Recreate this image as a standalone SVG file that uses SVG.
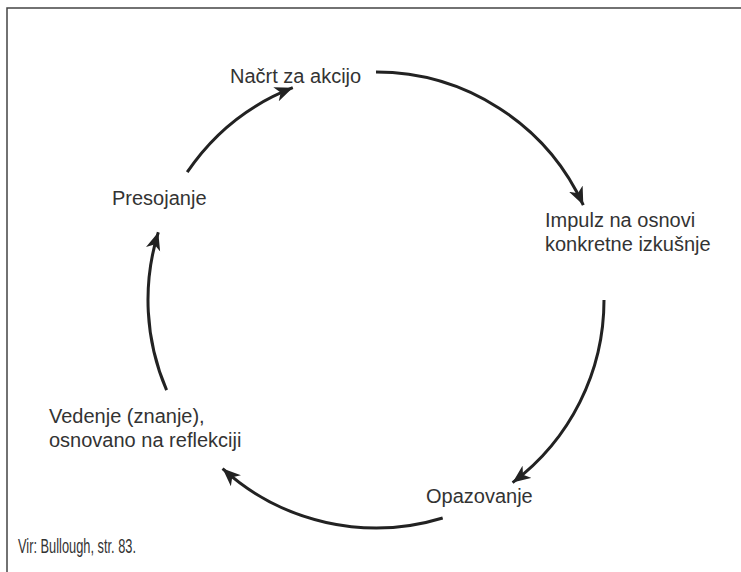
<svg xmlns="http://www.w3.org/2000/svg" width="741" height="572" viewBox="0 0 741 572">
  <style>
    .lbl { font-family: "Liberation Sans", Arial, sans-serif; font-size: 20px; fill: #333; }
    .src { font-family: "Liberation Sans Narrow", "Liberation Sans", Arial, sans-serif; font-size: 20px; fill: #333; }
    .arc { fill: none; stroke: #222; stroke-width: 3; }
    .frame { fill: none; stroke: #444; stroke-width: 1.5; }
  </style>
  <defs>
    <marker id="ah" markerUnits="userSpaceOnUse" markerWidth="20" markerHeight="16" refX="18" refY="7.5" orient="auto">
      <path d="M0,0 L18,7.5 L0,15 L5,7.5 z" fill="#222"/>
    </marker>
  </defs>
  <rect width="741" height="572" fill="#fff"/>
  <g id="frame">
    <path class="frame" d="M7,572 L7,8 L741,8"/>
  </g>
  <g id="connectors">
    <path class="arc" marker-end="url(#ah)" d="M376,72 A228,228 0 0 1 583.3,205.1"/>
    <path class="arc" marker-end="url(#ah)" d="M604,300 A228,228 0 0 1 512.6,482.6"/>
    <path class="arc" marker-end="url(#ah)" d="M442.7,518 A228,228 0 0 1 222.6,468.6"/>
    <path class="arc" marker-end="url(#ah)" d="M166.6,390.2 A228,228 0 0 1 158.3,232.2"/>
    <path class="arc" marker-end="url(#ah)" d="M187.2,172.2 A228,228 0 0 1 292.8,87.7"/>
  </g>
  <g id="nacrt">
    <text class="lbl" x="230" y="83">Načrt za akcijo</text>
  </g>
  <g id="impulz">
    <text class="lbl" x="545" y="227">Impulz na osnovi</text>
    <text class="lbl" x="545" y="251">konkretne izkušnje</text>
  </g>
  <g id="opazovanje">
    <text class="lbl" x="426" y="503">Opazovanje</text>
  </g>
  <g id="vedenje">
    <text class="lbl" x="49" y="423">Vedenje (znanje),</text>
    <text class="lbl" x="49" y="447">osnovano na reflekciji</text>
  </g>
  <g id="presojanje">
    <text class="lbl" x="112" y="205">Presojanje</text>
  </g>
  <g id="source">
    <text class="src" x="18" y="553" textLength="118" lengthAdjust="spacingAndGlyphs">Vir: Bullough, str. 83.</text>
  </g>
</svg>
